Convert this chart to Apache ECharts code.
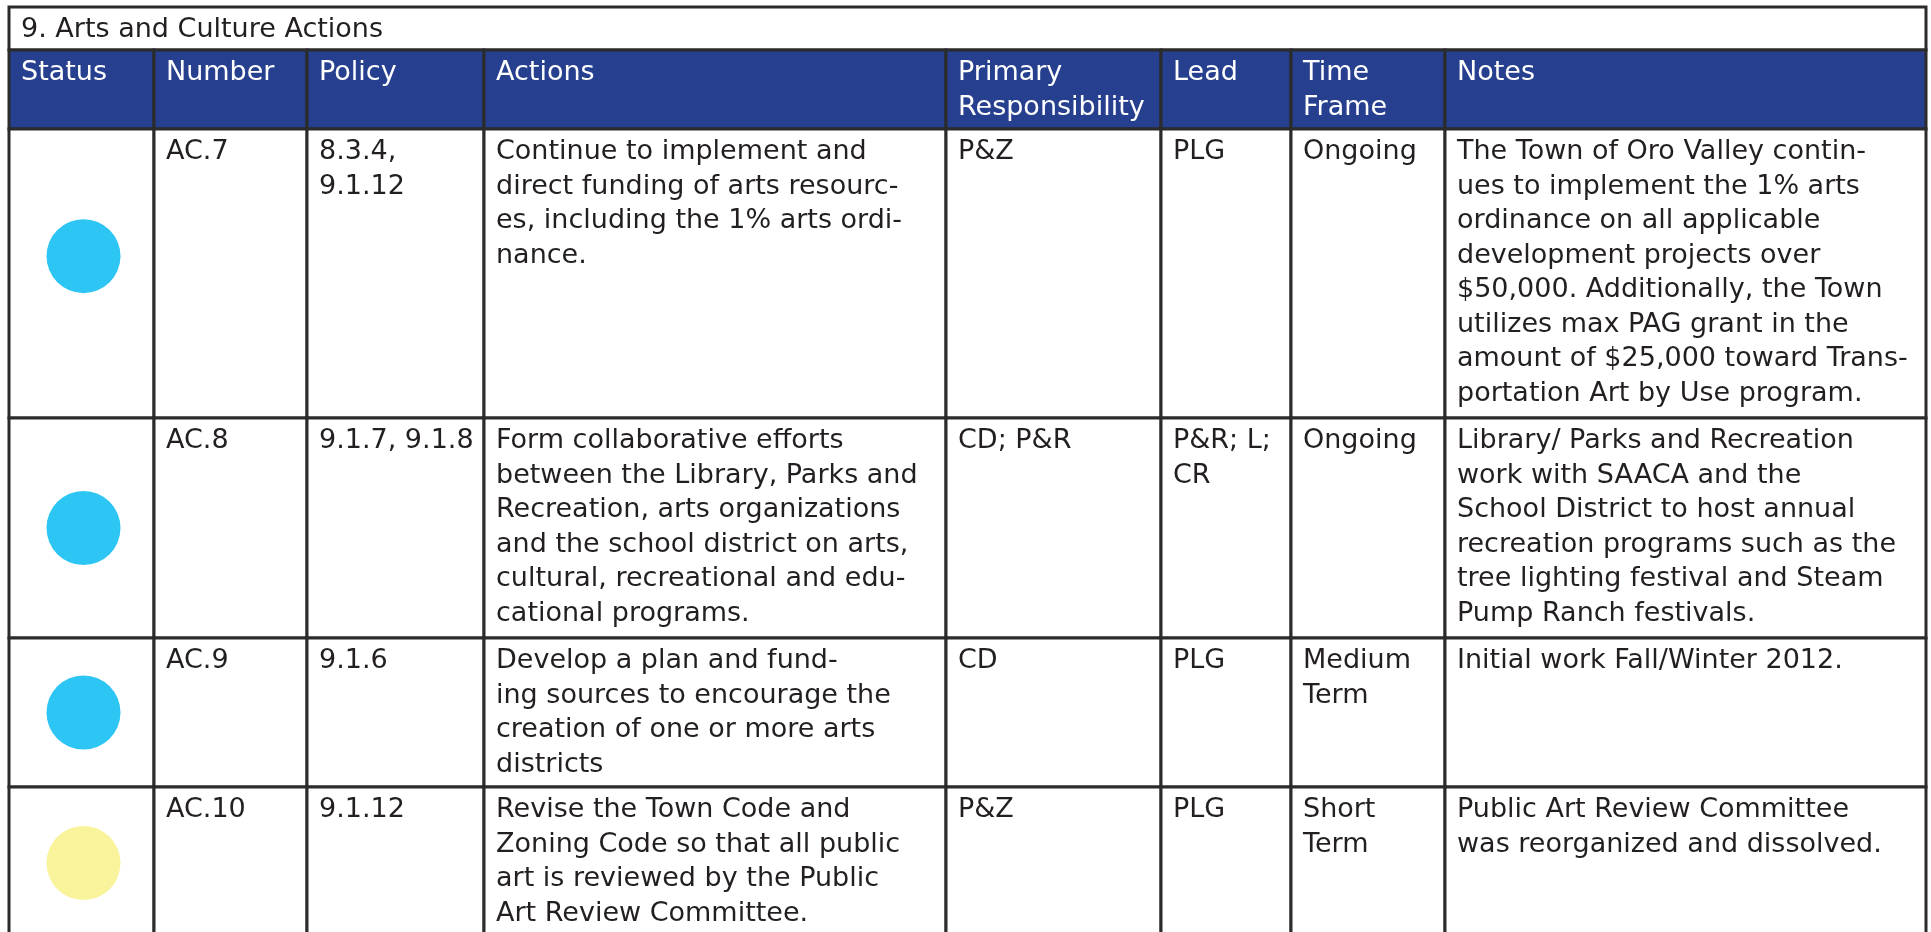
<!DOCTYPE html>
<html><head><meta charset="utf-8">
<script src="https://cdn.jsdelivr.net/npm/echarts@6/dist/echarts.min.js"></script>
<style>html,body{margin:0;padding:0;background:#fff;overflow:hidden}#c{width:1931px;height:932px}</style>
</head><body><div id="c"></div>
<script>
// ---------- data ----------
const tableTitle = '9. Arts and Culture Actions';
const headers = ['Status', 'Number', 'Policy', 'Actions', 'Primary\nResponsibility', 'Lead', 'Time\nFrame', 'Notes'];
const statuses = ['blue', 'blue', 'blue', 'yellow'];
const numbers = ['AC.7', 'AC.8', 'AC.9', 'AC.10'];
const policies = ['8.3.4,\n9.1.12', '9.1.7, 9.1.8', '9.1.6', '9.1.12'];
const actions = [
  'Continue to implement and\ndirect funding of arts resourc-\nes, including the 1% arts ordi-\nnance.',
  'Form collaborative efforts\nbetween the Library, Parks and\nRecreation, arts organizations\nand the school district on arts,\ncultural, recreational and edu-\ncational programs.',
  'Develop a plan and fund-\ning sources to encourage the\ncreation of one or more arts\ndistricts',
  'Revise the Town Code and\nZoning Code so that all public\nart is reviewed by the Public\nArt Review Committee.'
];
const responsibility = ['P&Z', 'CD; P&R', 'CD', 'P&Z'];
const leads = ['PLG', 'P&R; L;\nCR', 'PLG', 'PLG'];
const timeFrames = ['Ongoing', 'Ongoing', 'Medium\nTerm', 'Short\nTerm'];
const notes = [
  'The Town of Oro Valley contin-\nues to implement the 1% arts\nordinance on all applicable\ndevelopment projects over\n$50,000. Additionally, the Town\nutilizes max PAG grant in the\namount of $25,000 toward Trans-\nportation Art by Use program.',
  'Library/ Parks and Recreation\nwork with SAACA and the\nSchool District to host annual\nrecreation programs such as the\ntree lighting festival and Steam\nPump Ranch festivals.',
  'Initial work Fall/Winter 2012.',
  'Public Art Review Committee\nwas reorganized and dissolved.'
];

// ---------- layout & style ----------
const W = 1931, H = 932;
const tableLeft = 9, tableTop = 7;
const colWidths = [145, 153, 177, 462, 215, 130, 154, 481];
const titleHeight = 43, headerHeight = 79;
const bodyHeights = [289, 220, 149, 152];
const statusYFrac = [0.44, 0.5, 0.5, 0.5];
const statusColors = { blue: '#2DC5F3', yellow: '#F9F49B' };
const FONT = '27px "DejaVu Sans"';
const LINE_H = 34.5;
const PAD_X = 12, PAD_Y = 6;
const BORDER = '#2b2b2b';
const HEADER_BG = '#26408F';
const TEXT = '#231f20';

const colEdges = [tableLeft];
colWidths.forEach(w => colEdges.push(colEdges[colEdges.length - 1] + w));
const rowEdges = [tableTop, tableTop + titleHeight, tableTop + titleHeight + headerHeight];
bodyHeights.forEach(h => rowEdges.push(rowEdges[rowEdges.length - 1] + h));

// cell list: c0..c1 column span, r row index in rowEdges
const cells = [];
cells.push({ c0: 0, c1: colWidths.length, r: 0, text: tableTitle, fill: '#fff', color: TEXT });
headers.forEach((h, i) => cells.push({ c0: i, c1: i + 1, r: 1, text: h, fill: HEADER_BG, color: '#fff' }));
const bodyCols = [statuses.map(() => ''), numbers, policies, actions, responsibility, leads, timeFrames, notes];
numbers.forEach((_, ri) => {
  bodyCols.forEach((col, ci) => cells.push({ c0: ci, c1: ci + 1, r: ri + 2, text: col[ri], fill: '#fff', color: TEXT }));
});

const chart = echarts.init(document.getElementById('c'), null, { renderer: 'canvas' });
chart.setOption({
  animation: false,
  grid: { left: 0, right: 0, top: 0, bottom: 0 },
  xAxis: { type: 'value', min: 0, max: W, show: false },
  yAxis: { type: 'value', min: 0, max: H, inverse: true, show: false },
  series: [
    {
      type: 'custom',
      coordinateSystem: 'cartesian2d',
      clip: false,
      data: cells.map((c, i) => [i, 0]),
      renderItem: function (params, api) {
        const cell = cells[params.dataIndex];
        const p0 = api.coord([colEdges[cell.c0], rowEdges[cell.r]]);
        const p1 = api.coord([colEdges[cell.c1], rowEdges[cell.r + 1]]);
        return {
          type: 'group',
          children: [
            {
              type: 'rect',
              shape: { x: p0[0], y: p0[1], width: p1[0] - p0[0], height: p1[1] - p0[1] },
              style: { fill: cell.fill, stroke: BORDER, lineWidth: 3 }
            },
            {
              type: 'text',
              style: {
                text: cell.text, x: p0[0] + PAD_X, y: p0[1] + PAD_Y,
                font: FONT, fill: cell.color, lineHeight: LINE_H,
                align: 'left', verticalAlign: 'top'
              }
            }
          ]
        };
      }
    },
    {
      type: 'scatter',
      symbol: 'circle',
      symbolSize: 74,
      z: 5,
      silent: true,
      itemStyle: { opacity: 1 },
      data: statuses.map((s, i) => ({
        value: [(colEdges[0] + colEdges[1]) / 2 + 2,
                rowEdges[i + 2] + (rowEdges[i + 3] - rowEdges[i + 2]) * statusYFrac[i]],
        itemStyle: { color: statusColors[s], opacity: 1 }
      }))
    }
  ]
});
</script>
</body></html>
